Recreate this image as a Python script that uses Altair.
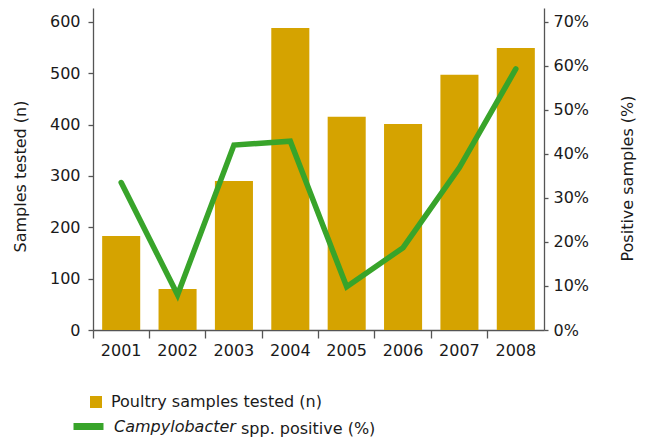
import altair as alt
import pandas as pd

years = ["2001", "2002", "2003", "2004", "2005", "2006", "2007", "2008"]
samples = [183, 80, 290, 588, 415, 401, 497, 549]
positive = [33.5, 8.0, 42.0, 42.9, 9.8, 18.7, 36.9, 59.3]

bar_label = "Poultry samples tested (n)"
line_label = "Campylobacter"

df = pd.DataFrame({"year": years, "samples": samples, "positive": positive})

FONT = "DejaVu Sans"
BAR_COLOR = "#D5A300"
LINE_COLOR = "#38A42A"
AXIS_COLOR = "#555555"
TEXT_COLOR = "#1a1a1a"

x_enc = alt.X(
    "year:N",
    title=None,
    scale=alt.Scale(paddingInner=0, paddingOuter=0),
    axis=alt.Axis(
        bandPosition=0, labelAngle=0, tickSize=8, labelPadding=4,
        domainColor=AXIS_COLOR, tickColor=AXIS_COLOR, labelColor=TEXT_COLOR,
        labelFontSize=16, labelFont=FONT, grid=False,
    ),
)

bars = alt.Chart(df).mark_bar(width=alt.RelativeBandSize(0.675)).encode(
    x=x_enc,
    y=alt.Y(
        "samples:Q",
        title="Samples tested (n)",
        scale=alt.Scale(domain=[0, 627], nice=False),
        axis=alt.Axis(
            values=[0, 100, 200, 300, 400, 500, 600], orient="left",
            tickSize=5, labelPadding=8, grid=False,
            domainColor=AXIS_COLOR, tickColor=AXIS_COLOR, labelColor=TEXT_COLOR,
            labelFontSize=16, labelFont=FONT,
            titleFontSize=16, titleFont=FONT, titleFontWeight="normal", titleColor=TEXT_COLOR,
            titleAngle=270, titleAlign="center", titleBaseline="middle",
            titleX=-73, titleY=168,
        ),
    ),
    fill=alt.Fill(
        "kind:N",
        scale=alt.Scale(domain=[bar_label], range=[BAR_COLOR]),
        legend=alt.Legend(
            orient="none", legendX=-5, legendY=386, title=None,
            symbolType="square", symbolSize=144, symbolStrokeWidth=0,
            labelFontSize=16, labelFont=FONT, labelColor=TEXT_COLOR, labelOffset=7,
            labelLimit=400,
        ),
    ),
).transform_calculate(kind=f"'{bar_label}'")

line = alt.Chart(df).mark_line(strokeWidth=5.5, strokeCap="round", strokeJoin="miter").encode(
    x=x_enc,
    y=alt.Y(
        "positive:Q",
        title="Positive samples (%)",
        scale=alt.Scale(domain=[0, 73.15], nice=False),
        axis=alt.Axis(
            values=[0, 10, 20, 30, 40, 50, 60, 70], orient="right",
            labelExpr="datum.value + '%'",
            tickSize=4, labelPadding=5, grid=False,
            domainColor=AXIS_COLOR, tickColor=AXIS_COLOR, labelColor=TEXT_COLOR,
            labelFontSize=16, labelFont=FONT,
            titleFontSize=16, titleFont=FONT, titleFontWeight="normal", titleColor=TEXT_COLOR,
            titleAngle=270, titleAlign="center", titleBaseline="middle",
            titleX=83, titleY=170,
        ),
    ),
    stroke=alt.Stroke(
        "kind:N",
        scale=alt.Scale(domain=[line_label], range=[LINE_COLOR]),
        legend=alt.Legend(
            orient="none", legendX=-5, legendY=409,
            title="spp. positive (%)", titleOrient="right",
            titleFontSize=16, titleFont=FONT, titleFontWeight="normal", titleColor=TEXT_COLOR,
            titlePadding=5,
            symbolType="M-4,0H1", symbolSize=144, symbolStrokeWidth=7,
            labelFontSize=16, labelFont=FONT, labelColor=TEXT_COLOR, labelOffset=7,
            labelFontStyle="italic", labelLimit=400,
        ),
    ),
).transform_calculate(kind=f"'{line_label}'")

chart = alt.layer(bars, line).resolve_scale(y="independent").properties(
    width=451,
    height=322,
    padding={"left": 85, "top": 0, "right": 96, "bottom": 107},
    autosize=alt.AutoSizeParams(type="none"),
).configure_view(stroke=None).configure_axis(domainWidth=1.3, tickWidth=1.3)

chart.save("out.html", embed_options={"renderer": "svg", "actions": False})
